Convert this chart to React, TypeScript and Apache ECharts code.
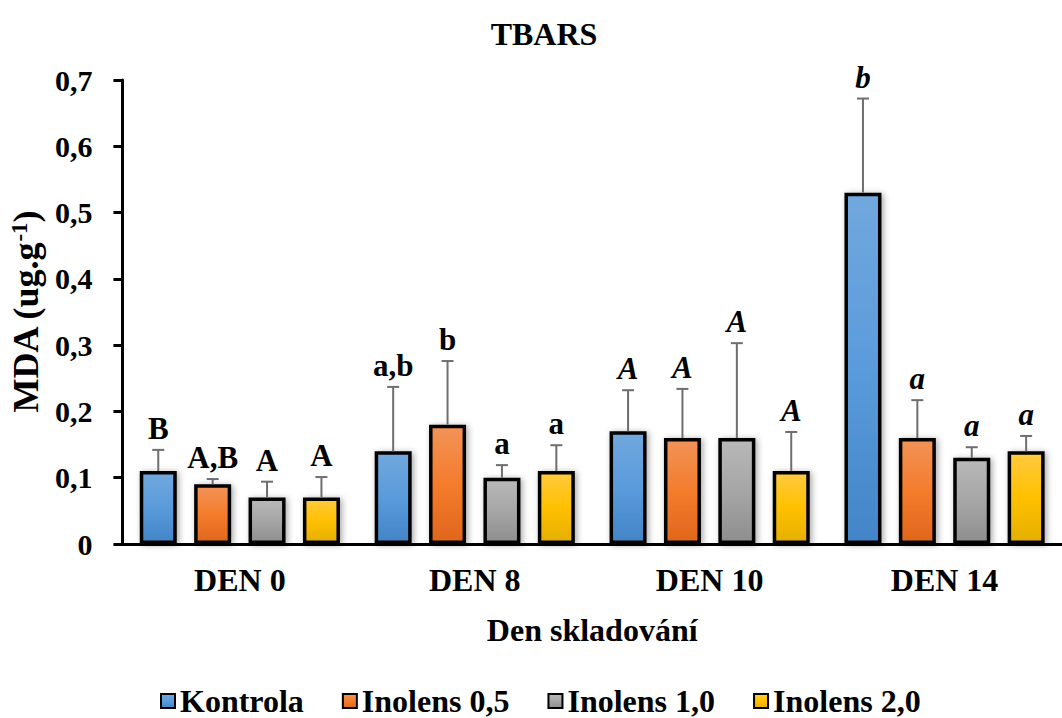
import React, { useEffect, useRef } from "react";
import * as echarts from "echarts";

const categories = ["DEN 0", "DEN 8", "DEN 10", "DEN 14"];
const seriesNames = ["Kontrola", "Inolens 0,5", "Inolens 1,0", "Inolens 2,0"];

const kontrola = [0.11, 0.14, 0.17, 0.53];
const inolens05 = [0.09, 0.18, 0.16, 0.16];
const inolens10 = [0.07, 0.1, 0.16, 0.13];
const inolens20 = [0.07, 0.11, 0.11, 0.14];

const kontrolaErr = [0.032, 0.097, 0.062, 0.142];
const inolens05Err = [0.008, 0.096, 0.074, 0.057];
const inolens10Err = [0.024, 0.019, 0.143, 0.016];
const inolens20Err = [0.031, 0.039, 0.059, 0.023];

const kontrolaLetters = ["B", "a,b", "A", "b"];
const inolens05Letters = ["A,B", "b", "A", "a"];
const inolens10Letters = ["A", "a", "A", "a"];
const inolens20Letters = ["A", "a", "A", "a"];

const italicCategories = [false, false, true, true];

const yMin = 0;
const yMax = 0.7;
const yInterval = 0.1;

const FONT = "Liberation Serif";
const BAR_WIDTH = 37;
const BAR_GAP = 0.47;

const values = [kontrola, inolens05, inolens10, inolens20];
const errors = [kontrolaErr, inolens05Err, inolens10Err, inolens20Err];
const letters = [kontrolaLetters, inolens05Letters, inolens10Letters, inolens20Letters];

const gradients = [
  ["#71a8de", "#5a9bdb", "#4285c8"],
  ["#f29358", "#f47c2c", "#e0661c"],
  ["#b8b8b8", "#a6a6a6", "#8e8e8e"],
  ["#ffca40", "#ffc000", "#e5af00"],
];

export default function App() {
  const ref = useRef<HTMLDivElement>(null);

  useEffect(() => {
    if (!ref.current) return;
    const chart = echarts.init(ref.current, undefined, { renderer: "svg" });

    const barSeries = seriesNames.map((name, s) => ({
      name,
      type: "bar",
      data: values[s],
      barWidth: BAR_WIDTH,
      barGap: BAR_GAP * 100 + "%",
      itemStyle: {
        color: new echarts.graphic.LinearGradient(0, 0, 0, 1, [
          { offset: 0, color: gradients[s][0] },
          { offset: 0.5, color: gradients[s][1] },
          { offset: 1, color: gradients[s][2] },
        ]),
        borderColor: "#000",
        borderWidth: 3.5,
        shadowBlur: 6,
        shadowColor: "rgba(0,0,0,0.35)",
        shadowOffsetX: 2,
        shadowOffsetY: 1,
      },
      emphasis: { disabled: true },
      z: 2,
    }));

    const pitch = BAR_WIDTH * (1 + BAR_GAP);

    const errSeries = seriesNames.map((name, s) => ({
      name: "err " + name,
      type: "custom",
      z: 5,
      data: values[s].map((v, i) => [i, v, errors[s][i]]),
      renderItem: (params: any, api: any) => {
        const i = api.value(0);
        const v = api.value(1);
        const e = api.value(2);
        const offset = (s - 1.5) * pitch;
        const base = api.coord([i, v]);
        const top = api.coord([i, v + e]);
        const x = base[0] + offset;
        const cap = 6;
        return {
          type: "group",
          children: [
            {
              type: "line",
              shape: { x1: x, y1: base[1], x2: x, y2: top[1] },
              style: { stroke: "#6e6e6e", lineWidth: 2 },
            },
            {
              type: "line",
              shape: { x1: x - cap, y1: top[1], x2: x + cap, y2: top[1] },
              style: { stroke: "#6e6e6e", lineWidth: 2 },
            },
            {
              type: "text",
              x: x,
              y: top[1] - 6,
              style: {
                text: letters[s][params.dataIndex],
                fill: "#000",
                fontSize: 31,
                fontWeight: "bold",
                fontStyle: italicCategories[params.dataIndex] ? "italic" : "normal",
                fontFamily: FONT,
                align: "center",
                verticalAlign: "bottom",
              },
            },
          ],
        };
      },
    }));

    chart.setOption({
      animation: false,
      backgroundColor: "#fff",
      title: {
        text: "TBARS",
        left: 539,
        textAlign: "center",
        top: 13,
        textStyle: { fontFamily: FONT, fontWeight: "bold", fontSize: 32, color: "#000" },
      },
      legend: {
        data: seriesNames,
        left: 155,
        top: 680,
        itemWidth: 14,
        itemHeight: 14,
        itemGap: 38,
        icon: "rect",
        textStyle: { fontFamily: FONT, fontWeight: "bold", fontSize: 32, color: "#000" },
      },
      grid: { left: 117.5, top: 80, width: 960, height: 464, containLabel: false },
      xAxis: {
        type: "category",
        data: categories,
        axisLine: { show: true, lineStyle: { color: "#000", width: 3 } },
        axisTick: { show: false },
        axisLabel: {
          margin: 20,
          fontFamily: FONT,
          fontWeight: "bold",
          fontSize: 32,
          color: "#000",
        },
        name: "Den skladování",
        nameLocation: "middle",
        nameGap: 70,
        nameTextStyle: { fontFamily: FONT, fontWeight: "bold", fontSize: 32, color: "#000" },
      },
      yAxis: {
        type: "value",
        min: yMin,
        max: yMax,
        interval: yInterval,
        splitLine: { show: false },
        axisLine: { show: true, lineStyle: { color: "#000", width: 3 } },
        axisTick: { show: true, length: 9, lineStyle: { color: "#000", width: 3 } },
        axisLabel: {
          margin: 30,
          fontFamily: FONT,
          fontWeight: "bold",
          fontSize: 30,
          color: "#000",
          formatter: (v: number) => (v === 0 ? "0" : v.toFixed(1).replace(".", ",")),
        },
        name: "MDA (ug.g{sup|-1})",
        nameLocation: "middle",
        nameRotate: 90,
        nameGap: 70,
        nameTextStyle: {
          fontFamily: FONT,
          fontWeight: "bold",
          fontSize: 36,
          color: "#000",
          rich: {
            sup: {
              fontFamily: FONT,
              fontWeight: "bold",
              fontSize: 23,
              color: "#000",
              verticalAlign: "top",
            },
          },
        },
      },
      series: [...barSeries, ...errSeries],
    });

    return () => chart.dispose();
  }, []);

  return (
    <div
      ref={ref}
      style={{ position: "fixed", left: 0, top: 0, width: 1062, height: 718 }}
    />
  );
}
